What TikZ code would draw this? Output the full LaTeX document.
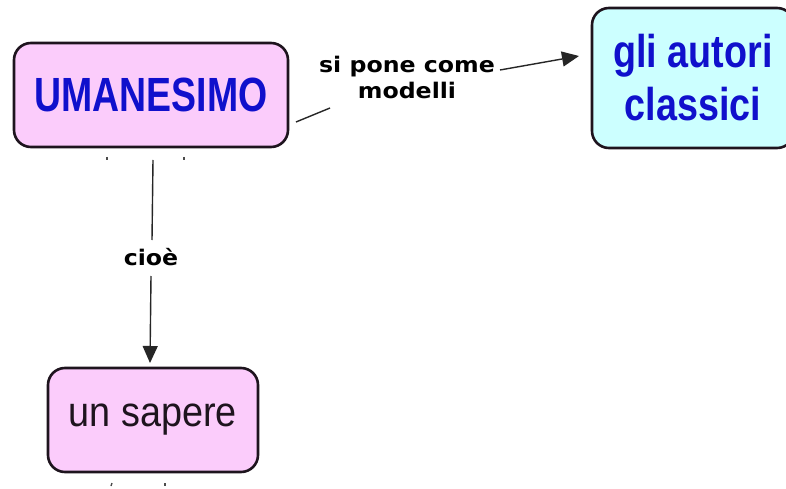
\documentclass[tikz,border=0pt]{standalone}
\usepackage{fontspec}
\setmainfont{Liberation Sans}
\newfontfamily\labfont{DejaVu Sans}
\usetikzlibrary{arrows.meta}
\definecolor{pinkfill}{HTML}{FBCCFB}
\definecolor{cyanfill}{HTML}{CCFFFF}
\definecolor{txtblue}{HTML}{1010CC}
\definecolor{boxline}{HTML}{1E141E}
\tikzset{
  concept/.style={draw=boxline, line width=2.6pt, rounded corners=17pt, inner sep=0pt, align=center},
  linklab/.style={font=\labfont\bfseries\fontsize{21.5}{26}\selectfont, align=center, inner sep=1pt},
  conn/.style={draw=black!85, line width=1.4pt},
  tip/.style={-{Triangle[length=17pt,width=15pt]}},
  tick/.style={draw=black!70, line width=1.3pt}
}
\begin{document}
\begin{tikzpicture}[x=1pt,y=1pt]
\useasboundingbox (0,0) rectangle (786,-489);
\fill[white] (0,0) rectangle (786,-489);
\begin{scope}
\clip (0,0) rectangle (786,-489);
\node[concept, fill=pinkfill, minimum width=274pt, minimum height=104pt, text=txtblue, font=\bfseries\fontsize{48}{52}\selectfont] (um) at (151,-95)
  {\scalebox{0.78}[1]{UMANESIMO}};
\node[concept, fill=cyanfill, minimum width=202pt, minimum height=140pt, text=txtblue, font=\bfseries\fontsize{46}{53}\selectfont] (cl) at (693,-78)
  {\scalebox{0.82}[1]{gli autori}\\\scalebox{0.82}[1]{classici}};
\node[concept, fill=pinkfill, minimum width=210pt, minimum height=104pt, text=boxline, font=\fontsize{42}{48}\selectfont] (sa) at (153,-420)
  {\scalebox{0.9}[1]{un sapere}};
\end{scope}
\node[linklab] (l1) at (407,-77) {\scalebox{1.1}[1]{si pone come}\\\scalebox{1.1}[1]{modelli}};
\node[linklab] (l2) at (151,-257) {\scalebox{1.1}[1]{cioè}};
\coordinate (a1) at (296,-122);
\coordinate (a2) at (330,-108);
\coordinate (b1) at (500,-70);
\coordinate (b2) at (579,-56);
\coordinate (c1) at (153,-160);
\coordinate (c2) at (152,-240);
\coordinate (d1) at (151,-276);
\coordinate (d2) at (150,-363);
\draw[conn] (a1) -- (a2);
\draw[conn, tip] (b1) -- (b2);
\draw[conn] (c1) -- (c2);
\draw[conn, tip] (d1) -- (d2);
\coordinate (t1) at (107,-157);
\coordinate (t2) at (184,-157);
\coordinate (t3) at (112,-483);
\coordinate (t4) at (165,-483);
\draw[tick] (t1) -- ++(0,-3);
\draw[tick] (t2) -- ++(0,-3);
\draw[tick] (t3) -- ++(-1,-3);
\draw[tick] (t4) -- ++(0,-3);
\end{tikzpicture}
\end{document}
